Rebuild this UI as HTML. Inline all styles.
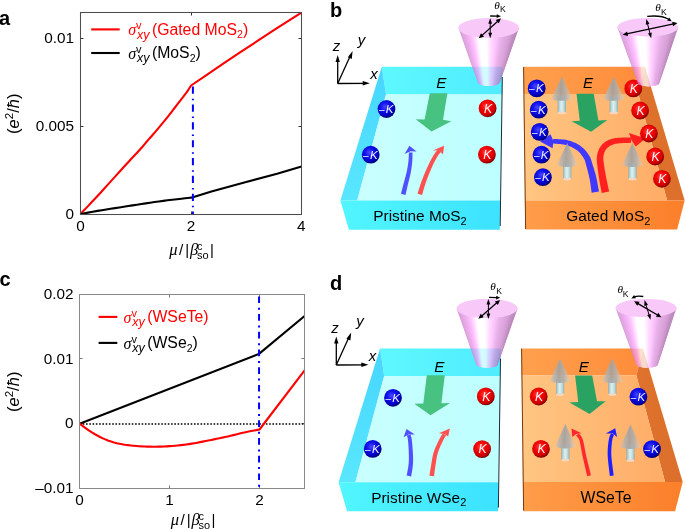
<!DOCTYPE html>
<html><head><meta charset="utf-8"><style>
html,body{margin:0;padding:0;background:#fff;}
body{width:685px;height:529px;overflow:hidden;position:relative;font-family:"Liberation Sans",sans-serif;}
svg{position:absolute;left:0;top:0;}
#wrap{position:absolute;left:0;top:0;width:685px;height:529px;transform:translateZ(0);}
</style></head><body>
<div id="wrap"><svg width="685" height="529" viewBox="0 0 685 529">
<defs>
<linearGradient id="cyBack" x1="0" x2="1" y1="0" y2="0"><stop offset="0" stop-color="#5df8ff"/><stop offset="1" stop-color="#50ecff"/></linearGradient>
<linearGradient id="cyFront" x1="0" x2="1" y1="0" y2="0"><stop offset="0" stop-color="#52f6ff"/><stop offset="1" stop-color="#3ce2ff"/></linearGradient>
<linearGradient id="cyFloor" x1="0" x2="1" y1="0" y2="0"><stop offset="0" stop-color="#c9ffff"/><stop offset="1" stop-color="#bdffff"/></linearGradient>
<linearGradient id="orBack" x1="0" x2="1" y1="0" y2="0"><stop offset="0" stop-color="#ffa04e"/><stop offset="1" stop-color="#ff8c3a"/></linearGradient>
<linearGradient id="orFloor" x1="0" x2="1" y1="0" y2="0"><stop offset="0" stop-color="#ffc682"/><stop offset="1" stop-color="#ffac66"/></linearGradient>
<linearGradient id="orFront" x1="0" x2="1" y1="0" y2="0"><stop offset="0" stop-color="#ff9d4a"/><stop offset="1" stop-color="#fb7f2a"/></linearGradient>
<linearGradient id="orWall" x1="0" x2="1" y1="0" y2="0"><stop offset="0" stop-color="#df732d"/><stop offset="1" stop-color="#db6f2b"/></linearGradient>
<linearGradient id="cyWall" x1="0" x2="0" y1="0" y2="1"><stop offset="0" stop-color="#46d5ff"/><stop offset="1" stop-color="#59e7ff"/></linearGradient>
<linearGradient id="coneBody" x1="0" x2="1" y1="0" y2="0">
 <stop offset="0" stop-color="#e2a2de"/><stop offset="0.25" stop-color="#f0bcec"/>
 <stop offset="0.42" stop-color="#ffffff"/><stop offset="0.52" stop-color="#fbeefb"/>
 <stop offset="0.7" stop-color="#e8b4e8"/><stop offset="1" stop-color="#c88cc8"/></linearGradient>
<radialGradient id="ballB" cx="0.42" cy="0.38" r="0.68"><stop offset="0" stop-color="#4a4aff"/><stop offset="0.35" stop-color="#1414f0"/><stop offset="0.72" stop-color="#0000c0"/><stop offset="1" stop-color="#000050"/></radialGradient>
<radialGradient id="ballR" cx="0.42" cy="0.38" r="0.68"><stop offset="0" stop-color="#ff4a4a"/><stop offset="0.35" stop-color="#f80808"/><stop offset="0.72" stop-color="#d00000"/><stop offset="1" stop-color="#580000"/></radialGradient>
<linearGradient id="spinCone" x1="0" x2="1" y1="0" y2="0"><stop offset="0" stop-color="#c8c4c0" stop-opacity="0.4"/><stop offset="0.2" stop-color="#b6b3b0" stop-opacity="0.82"/><stop offset="0.45" stop-color="#a2a1a0" stop-opacity="0.9"/><stop offset="0.7" stop-color="#b4b0ac" stop-opacity="0.85"/><stop offset="1" stop-color="#d8d0c8" stop-opacity="0.45"/></linearGradient>
<linearGradient id="spinStem" x1="0" x2="1" y1="0" y2="0"><stop offset="0" stop-color="#90acac"/><stop offset="0.2" stop-color="#b8d4d4"/><stop offset="0.45" stop-color="#dcf2f2"/><stop offset="0.75" stop-color="#c0d8d8"/><stop offset="1" stop-color="#92aeae"/></linearGradient>
<clipPath id="coneclip1"><path d="M458.4,27.9 L477.90000000000003,82.6 A10.9 3.5 0 0 0 499.7,82.6 L519.0,27.9 Z"/></clipPath><clipPath id="coneclip2"><path d="M617.3,27.2 L637.8000000000001,82.8 A10.8 3.6 0 0 0 659.4,82.8 L678.3,27.2 Z"/></clipPath><clipPath id="coneclip3"><path d="M456.6,308.4 L476.2,364.2 A10.8 3.6 0 0 0 497.8,364.2 L517.6,308.4 Z"/></clipPath><clipPath id="coneclip4"><path d="M615.5,308 L636.3000000000001,364.3 A10.8 3.6 0 0 0 657.9,364.3 L676.5,308 Z"/></clipPath></defs>
<text x="-1" y="25" font-family="Liberation Sans" font-size="20" font-weight="bold">a</text>
<text x="330" y="17" font-family="Liberation Sans" font-size="20" font-weight="bold">b</text>
<text x="-0.5" y="285.7" font-family="Liberation Sans" font-size="20" font-weight="bold">c</text>
<text x="330" y="289.9" font-family="Liberation Sans" font-size="20" font-weight="bold">d</text>
<line x1="191.5" y1="214.5" x2="191.5" y2="211.5" stroke="#333" stroke-width="1"/>
<line x1="191.5" y1="12.5" x2="191.5" y2="15.5" stroke="#333" stroke-width="1"/>
<line x1="80.5" y1="126.5" x2="83.5" y2="126.5" stroke="#333" stroke-width="1"/>
<line x1="301.5" y1="126.5" x2="298.5" y2="126.5" stroke="#333" stroke-width="1"/>
<line x1="80.5" y1="38.5" x2="83.5" y2="38.5" stroke="#333" stroke-width="1"/>
<line x1="301.5" y1="38.5" x2="298.5" y2="38.5" stroke="#333" stroke-width="1"/>
<polyline points="80.50,214.00 83.29,211.06 87.30,206.85 91.81,202.09 96.10,197.50 100.07,193.18 104.07,188.78 108.08,184.33 112.10,179.90 116.22,175.36 120.41,170.74 124.47,166.28 128.20,162.20 131.57,158.56 134.69,155.22 137.52,152.21 140.00,149.50 142.02,147.22 143.62,145.32 145.07,143.59 146.60,141.80 148.25,139.92 149.89,138.06 151.54,136.20 153.20,134.30 154.87,132.36 156.55,130.38 158.23,128.39 159.90,126.40 161.56,124.42 163.21,122.44 164.85,120.44 166.50,118.40 168.15,116.31 169.80,114.19 171.45,112.04 173.10,109.90 174.75,107.76 176.39,105.61 178.04,103.46 179.70,101.30 181.41,99.09 183.17,96.86 184.86,94.66 186.40,92.60 187.83,90.55 189.17,88.51 190.30,86.74 191.10,85.50 206.80,74.80 223.60,63.30 240.40,52.20 257.10,41.20 273.90,30.20 290.70,19.30 301.50,12.60" fill="none" stroke="#ff0000" stroke-width="2.1" stroke-linejoin="round"/>
<polyline points="80.50,214.00 83.54,213.44 87.91,212.62 92.82,211.73 97.50,210.90 101.84,210.18 106.21,209.48 110.61,208.79 115.00,208.10 119.40,207.42 123.80,206.74 128.20,206.07 132.60,205.40 136.98,204.72 141.36,204.03 145.73,203.35 150.10,202.70 154.47,202.07 158.85,201.46 163.22,200.86 167.60,200.30 172.22,199.74 177.01,199.20 181.46,198.71 185.10,198.30 187.75,198.00 189.69,197.78 191.09,197.62 192.10,197.50 211.40,191.60 244.30,182.50 277.10,173.80 301.50,166.60" fill="none" stroke="#000" stroke-width="2.1" stroke-linejoin="round"/>
<line x1="192.9" y1="86.6" x2="192.9" y2="214.3" stroke="#0000ff" stroke-width="2" stroke-dasharray="7.2 4.95 1.5 4.2"/>
<rect x="80.5" y="12.5" width="221.0" height="202.0" fill="none" stroke="#4d4d4d" stroke-width="1.05"/>
<text x="74" y="218.9" font-family="Liberation Sans" font-size="15.3" text-anchor="end">0</text>
<text x="74" y="130.9" font-family="Liberation Sans" font-size="15.3" text-anchor="end">0.005</text>
<text x="74" y="42.9" font-family="Liberation Sans" font-size="15.3" text-anchor="end">0.01</text>
<text x="80.5" y="231.4" font-family="Liberation Sans" font-size="15.3" text-anchor="middle">0</text>
<text x="190.9" y="231.4" font-family="Liberation Sans" font-size="15.3" text-anchor="middle">2</text>
<text x="301.2" y="231.4" font-family="Liberation Sans" font-size="15.3" text-anchor="middle">4</text>
<g transform="translate(18.5,113.7) rotate(-90)"><text x="0" y="0" font-family="Liberation Sans" font-size="16.5" text-anchor="middle">(<tspan font-style="italic">e</tspan><tspan font-size="11.5" dy="-6">2</tspan><tspan dy="6">/</tspan><tspan font-style="italic">ħ</tspan>)</text></g>
<text x="169.2" y="255.3" font-family="Liberation Serif" font-style="italic" font-size="16.5">μ</text>
<text x="179.0" y="255.3" font-family="Liberation Sans" font-size="15.3">/</text>
<text x="185.29999999999998" y="255.3" font-family="Liberation Sans" font-size="15">|</text>
<text x="190.1" y="255.3" font-family="Liberation Serif" font-style="italic" font-size="16.5">β</text>
<text x="196.89999999999998" y="249.70000000000002" font-family="Liberation Sans" font-size="11">c</text>
<text x="197.0" y="259.1" font-family="Liberation Sans" font-size="11">so</text>
<text x="209.89999999999998" y="255.3" font-family="Liberation Sans" font-size="15">|</text>
<line x1="91.2" y1="29.4" x2="119.7" y2="29.4" stroke="#ff0000" stroke-width="2.1"/>
<text x="128.3" y="35.1" font-family="Liberation Serif" font-style="italic" font-size="16" fill="#ff0000">σ</text>
<text x="136.1" y="29.0" font-family="Liberation Sans" font-size="11" fill="#ff0000">v</text>
<text x="136.9" y="38.5" font-family="Liberation Sans" font-style="italic" font-size="12.5" fill="#ff0000">xy</text>
<text x="151.9" y="34.8" font-family="Liberation Sans" font-size="15.8" fill="#ff0000">(Gated MoS<tspan font-size="10.5" dy="3.3">2</tspan><tspan dy="-3.3">)</tspan></text>
<line x1="91.2" y1="53.0" x2="119.7" y2="53.0" stroke="#000" stroke-width="2.1"/>
<text x="128.3" y="58.7" font-family="Liberation Serif" font-style="italic" font-size="16" fill="#000">σ</text>
<text x="136.1" y="52.6" font-family="Liberation Sans" font-size="11" fill="#000">v</text>
<text x="136.9" y="62.1" font-family="Liberation Sans" font-style="italic" font-size="12.5" fill="#000">xy</text>
<text x="151.9" y="58.4" font-family="Liberation Sans" font-size="15.8" fill="#000">(MoS<tspan font-size="10.5" dy="3.3">2</tspan><tspan dy="-3.3">)</tspan></text>
<line x1="169.5" y1="488.5" x2="169.5" y2="485.5" stroke="#777" stroke-width="1"/>
<line x1="169.5" y1="294.5" x2="169.5" y2="297.5" stroke="#777" stroke-width="1"/>
<line x1="259.5" y1="488.5" x2="259.5" y2="485.5" stroke="#777" stroke-width="1"/>
<line x1="259.5" y1="294.5" x2="259.5" y2="297.5" stroke="#777" stroke-width="1"/>
<line x1="79.5" y1="358.5" x2="82.5" y2="358.5" stroke="#777" stroke-width="1"/>
<line x1="304.5" y1="358.5" x2="301.5" y2="358.5" stroke="#777" stroke-width="1"/>
<line x1="79.5" y1="423.5" x2="82.5" y2="423.5" stroke="#777" stroke-width="1"/>
<line x1="304.5" y1="423.5" x2="301.5" y2="423.5" stroke="#777" stroke-width="1"/>
<line x1="79.5" y1="424" x2="304.5" y2="424" stroke="#000" stroke-width="1.6" stroke-dasharray="1.6 1.67"/>
<polyline points="79.6,423.7 258.7,354.1 304.6,316" fill="none" stroke="#000" stroke-width="2.1" stroke-linejoin="round"/>
<polyline points="79.60,423.70 81.25,424.91 83.56,426.63 86.28,428.61 89.15,430.62 91.90,432.40 94.56,433.98 97.31,435.53 100.10,437.01 102.91,438.38 105.70,439.60 108.47,440.67 111.25,441.61 114.04,442.43 116.82,443.16 119.60,443.80 122.38,444.34 125.16,444.77 127.95,445.12 130.73,445.42 133.50,445.70 136.26,445.96 139.02,446.18 141.78,446.35 144.54,446.49 147.30,446.60 150.07,446.67 152.85,446.71 155.64,446.71 158.42,446.67 161.20,446.60 163.98,446.49 166.76,446.34 169.54,446.15 172.32,445.94 175.10,445.70 177.88,445.44 180.66,445.15 183.45,444.84 186.23,444.49 189.00,444.10 191.76,443.66 194.52,443.18 197.28,442.66 200.04,442.13 202.80,441.60 205.57,441.06 208.35,440.51 211.14,439.95 213.92,439.38 216.70,438.80 219.48,438.22 222.26,437.63 225.05,437.04 227.83,436.43 230.60,435.80 233.35,435.14 236.06,434.44 238.79,433.74 241.56,433.05 244.40,432.40 247.58,431.74 251.07,431.06 254.48,430.43 257.43,429.89 259.50,429.50 304.60,370.40" fill="none" stroke="#ff0000" stroke-width="2.1" stroke-linejoin="round"/>
<line x1="259.05" y1="296.4" x2="259.05" y2="488" stroke="#0000ff" stroke-width="2" stroke-dasharray="6.7 4.7 2.0 4.3"/>
<rect x="79.5" y="294.5" width="225.0" height="194.0" fill="none" stroke="#888" stroke-width="1"/>
<text x="73.5" y="299.14" font-family="Liberation Sans" font-size="15.3" text-anchor="end">0.02</text>
<text x="73.5" y="363.66999999999996" font-family="Liberation Sans" font-size="15.3" text-anchor="end">0.01</text>
<text x="73.5" y="428.2" font-family="Liberation Sans" font-size="15.3" text-anchor="end">0</text>
<text x="73.5" y="492.73" font-family="Liberation Sans" font-size="15.3" text-anchor="end">–0.01</text>
<text x="79.6" y="505.2" font-family="Liberation Sans" font-size="15.3" text-anchor="middle">0</text>
<text x="169.6" y="505.2" font-family="Liberation Sans" font-size="15.3" text-anchor="middle">1</text>
<text x="259.6" y="505.2" font-family="Liberation Sans" font-size="15.3" text-anchor="middle">2</text>
<g transform="translate(18.5,391.8) rotate(-90)"><text x="0" y="0" font-family="Liberation Sans" font-size="16.5" text-anchor="middle">(<tspan font-style="italic">e</tspan><tspan font-size="11.5" dy="-6">2</tspan><tspan dy="6">/</tspan><tspan font-style="italic">ħ</tspan>)</text></g>
<text x="170.7" y="525.2" font-family="Liberation Serif" font-style="italic" font-size="16.5">μ</text>
<text x="180.5" y="525.2" font-family="Liberation Sans" font-size="15.3">/</text>
<text x="186.79999999999998" y="525.2" font-family="Liberation Sans" font-size="15">|</text>
<text x="191.6" y="525.2" font-family="Liberation Serif" font-style="italic" font-size="16.5">β</text>
<text x="198.39999999999998" y="519.6" font-family="Liberation Sans" font-size="11">c</text>
<text x="198.5" y="529.0" font-family="Liberation Sans" font-size="11">so</text>
<text x="211.39999999999998" y="525.2" font-family="Liberation Sans" font-size="15">|</text>
<line x1="98.6" y1="316.9" x2="117.3" y2="316.9" stroke="#ff0000" stroke-width="2.1"/>
<text x="123.6" y="322.59999999999997" font-family="Liberation Serif" font-style="italic" font-size="16" fill="#ff0000">σ</text>
<text x="131.39999999999998" y="316.5" font-family="Liberation Sans" font-size="11" fill="#ff0000">v</text>
<text x="132.2" y="326.0" font-family="Liberation Sans" font-style="italic" font-size="12.5" fill="#ff0000">xy</text>
<text x="147.2" y="322.29999999999995" font-family="Liberation Sans" font-size="15.8" fill="#ff0000">(WSeTe)</text>
<line x1="98.6" y1="342.9" x2="117.3" y2="342.9" stroke="#000" stroke-width="2.1"/>
<text x="123.6" y="348.59999999999997" font-family="Liberation Serif" font-style="italic" font-size="16" fill="#000">σ</text>
<text x="131.39999999999998" y="342.5" font-family="Liberation Sans" font-size="11" fill="#000">v</text>
<text x="132.2" y="352.0" font-family="Liberation Sans" font-style="italic" font-size="12.5" fill="#000">xy</text>
<text x="147.2" y="348.29999999999995" font-family="Liberation Sans" font-size="15.8" fill="#000">(WSe<tspan font-size="10.5" dy="3.3">2</tspan><tspan dy="-3.3">)</tspan></text>
<g transform="translate(0,0)">
<polygon points="381.8,66.8 502.5,66.8 502.2,94.5 386.0,94.5" fill="url(#cyBack)" />
<polygon points="381.8,66.8 386.0,94.5 357.2,200.6 340.4,200.6" fill="url(#cyWall)" />
<polygon points="386.0,94.5 502.2,94.5 500.0,200.6 357.2,200.6" fill="url(#cyFloor)" />
<polygon points="340.4,200.6 500.0,200.6 499.8,229.7 348.9,229.7" fill="url(#cyFront)" />
<line x1="502.3" y1="77" x2="500.2" y2="226" stroke="#1a2a3a" stroke-width="1"/>
</g>
<g transform="translate(0,0)">
<polygon points="523.3,66.8 645.0,66.8 638.4,94.0 523.6,94.0" fill="url(#orBack)" />
<polygon points="645.0,66.8 684.7,200.5 667.1,200.5 638.4,94.0" fill="url(#orWall)" />
<polygon points="523.6,94.0 638.4,94.0 667.1,200.5 524.8,200.5" fill="url(#orFloor)" />
<polygon points="524.8,200.5 684.7,200.5 677.1,229.6 525.5,229.6" fill="url(#orFront)" />
<line x1="523.6" y1="67" x2="525.6" y2="229" stroke="#7a3a10" stroke-width="1"/>
</g>
<g stroke="#000" stroke-width="1.3" fill="none">
<line x1="337.7" y1="83.5" x2="337.7" y2="59.5"/>
<line x1="337.7" y1="83.5" x2="366.7" y2="83.3"/>
<line x1="337.7" y1="83.5" x2="350.9" y2="54.5"/>
</g>
<polygon points="337.7,55.0 335.5,62.0 339.9,62.0" fill="#000"/>
<polygon points="369.8,83.3 362.7,81.1 362.7,85.5" fill="#000"/>
<polygon points="352.59999999999997,51.0 347.8,57.3 351.8,59.1" fill="#000"/>
<text x="332.7" y="51.0" font-family="Liberation Sans" font-size="15" font-style="italic">z</text>
<text x="357.7" y="44.5" font-family="Liberation Sans" font-size="15" font-style="italic">y</text>
<text x="370.2" y="79.3" font-family="Liberation Sans" font-size="15" font-style="italic">x</text>
<text x="436.3" y="87.8" font-family="Liberation Sans" font-size="15.2" font-style="italic">E</text>
<polygon points="429.8,93.3 447.4,93.3 443.0,119.8 451.3,121.2 431.5,131.6 415.7,119.3 424.6,119.4" fill="#48c280" />
<circle cx="386.5" cy="109" r="8.9" fill="url(#ballB)"/><text x="378.9" y="113.0" font-family="Liberation Sans" font-size="10" font-style="italic" fill="#f4f4ff">–</text><text x="385.7" y="112.9" font-family="Liberation Sans" font-size="11.5" font-style="italic" fill="#f4f4ff">K</text>
<circle cx="370.7" cy="154.7" r="8.9" fill="url(#ballB)"/><text x="363.09999999999997" y="158.7" font-family="Liberation Sans" font-size="10" font-style="italic" fill="#f4f4ff">–</text><text x="369.9" y="158.6" font-family="Liberation Sans" font-size="11.5" font-style="italic" fill="#f4f4ff">K</text>
<circle cx="487.6" cy="108.3" r="8.9" fill="url(#ballR)"/><text x="488.1" y="112.6" font-family="Liberation Sans" font-size="12.3" font-style="italic" fill="#fff4f4" text-anchor="middle">K</text>
<circle cx="486.9" cy="154.6" r="8.9" fill="url(#ballR)"/><text x="487.4" y="158.9" font-family="Liberation Sans" font-size="12.3" font-style="italic" fill="#fff4f4" text-anchor="middle">K</text>
<path d="M405.48,194.96 L405.67,194.14 L405.92,193.06 L406.22,191.77 L406.55,190.33 L406.90,188.81 L407.26,187.26 L407.61,185.75 L407.94,184.34 L408.27,183.00 L408.61,181.64 L408.96,180.26 L409.32,178.87 L409.67,177.47 L410.01,176.05 L410.33,174.64 L410.62,173.22 L410.88,171.81 L411.13,170.39 L411.36,168.97 L411.57,167.56 L411.76,166.15 L411.93,164.77 L412.08,163.42 L412.21,162.09 L412.31,160.73 L412.38,159.33 L412.43,157.92 L412.46,156.57 L412.47,155.31 L412.48,154.19 L412.49,153.26 L412.50,152.56 L408.90,152.44 L408.87,153.17 L408.84,154.12 L408.80,155.23 L408.76,156.47 L408.70,157.78 L408.62,159.12 L408.52,160.45 L408.39,161.71 L408.23,162.96 L408.05,164.26 L407.85,165.59 L407.63,166.94 L407.39,168.31 L407.14,169.67 L406.87,171.04 L406.58,172.38 L406.27,173.71 L405.93,175.05 L405.57,176.40 L405.19,177.77 L404.80,179.14 L404.41,180.51 L404.03,181.89 L403.66,183.26 L403.28,184.68 L402.89,186.19 L402.49,187.73 L402.10,189.24 L401.73,190.67 L401.40,191.95 L401.13,193.03 L400.92,193.84 Z" fill="#5050ff"/><polygon points="409.40,145.80 404.60,154.00 410.60,151.20 416.60,151.60" fill="#5050ff"/>
<path d="M422.05,195.07 L422.29,194.25 L422.59,193.18 L422.95,191.90 L423.35,190.49 L423.78,189.00 L424.23,187.48 L424.68,186.01 L425.13,184.63 L425.58,183.29 L426.05,181.94 L426.54,180.58 L427.04,179.21 L427.56,177.83 L428.09,176.46 L428.63,175.09 L429.17,173.72 L429.74,172.34 L430.32,170.93 L430.93,169.51 L431.54,168.09 L432.15,166.71 L432.75,165.37 L433.34,164.10 L433.91,162.91 L434.47,161.78 L435.03,160.70 L435.59,159.66 L436.13,158.68 L436.67,157.75 L437.18,156.88 L437.67,156.09 L438.11,155.38 L438.52,154.78 L438.92,154.26 L439.31,153.79 L439.68,153.38 L440.03,153.00 L440.35,152.67 L440.65,152.36 L440.90,152.09 L438.10,149.51 L437.90,149.73 L437.64,149.99 L437.29,150.34 L436.87,150.76 L436.41,151.26 L435.92,151.84 L435.40,152.49 L434.89,153.22 L434.37,153.99 L433.84,154.83 L433.28,155.73 L432.70,156.70 L432.11,157.72 L431.51,158.80 L430.90,159.93 L430.29,161.09 L429.67,162.32 L429.04,163.63 L428.39,164.99 L427.74,166.39 L427.09,167.82 L426.45,169.26 L425.83,170.68 L425.23,172.08 L424.64,173.46 L424.07,174.85 L423.50,176.25 L422.95,177.64 L422.40,179.03 L421.88,180.42 L421.37,181.80 L420.87,183.17 L420.38,184.61 L419.88,186.13 L419.39,187.67 L418.93,189.18 L418.50,190.60 L418.11,191.87 L417.79,192.93 L417.55,193.73 Z" fill="#ff5050"/><polygon points="444.10,145.80 432.80,150.60 438.80,150.20 443.00,154.20" fill="#ff5050"/>
<text x="583.0" y="87.9" font-family="Liberation Sans" font-size="15.2" font-style="italic">E</text>
<polygon points="576.5,93.8 593.7,93.8 598.4,120.6 607.4,119.9 591.1,131.8 571.6,121.2 579.8,120.8" fill="#2aa362" />
<path d="M598.95,191.62 L598.76,190.52 L598.51,189.06 L598.20,187.29 L597.86,185.32 L597.49,183.23 L597.09,181.12 L596.68,179.08 L596.25,177.17 L595.80,175.37 L595.32,173.55 L594.80,171.74 L594.28,169.96 L593.76,168.26 L593.25,166.64 L592.77,165.14 L592.35,163.80 L591.99,162.66 L591.70,161.66 L591.43,160.73 L591.15,159.83 L590.84,158.92 L590.46,157.99 L590.00,157.02 L589.44,156.01 L588.80,154.97 L588.10,153.91 L587.33,152.85 L586.52,151.80 L585.67,150.76 L584.79,149.76 L583.89,148.82 L582.98,147.93 L582.06,147.13 L581.14,146.38 L580.19,145.69 L579.23,145.05 L578.25,144.45 L577.25,143.90 L576.23,143.37 L575.17,142.87 L574.09,142.39 L572.98,141.93 L571.83,141.50 L570.66,141.10 L569.44,140.73 L568.17,140.39 L566.85,140.09 L565.46,139.82 L563.91,139.59 L562.19,139.41 L560.40,139.28 L558.61,139.17 L556.91,139.08 L555.37,139.02 L554.11,138.96 L553.17,138.91 L552.83,143.49 L553.79,143.58 L555.08,143.69 L556.60,143.81 L558.26,143.96 L559.98,144.12 L561.66,144.32 L563.21,144.54 L564.54,144.78 L565.71,145.06 L566.85,145.36 L567.93,145.69 L568.97,146.05 L569.97,146.44 L570.94,146.84 L571.89,147.28 L572.83,147.73 L573.73,148.21 L574.59,148.68 L575.39,149.18 L576.17,149.69 L576.91,150.22 L577.63,150.79 L578.33,151.41 L579.02,152.07 L579.72,152.80 L580.44,153.61 L581.15,154.48 L581.84,155.39 L582.51,156.32 L583.12,157.25 L583.68,158.15 L584.16,158.99 L584.53,159.73 L584.80,160.37 L585.02,160.99 L585.22,161.65 L585.43,162.41 L585.65,163.31 L585.92,164.37 L586.25,165.60 L586.64,166.97 L587.05,168.47 L587.49,170.07 L587.93,171.75 L588.38,173.47 L588.80,175.22 L589.20,176.95 L589.55,178.63 L589.87,180.39 L590.19,182.34 L590.50,184.39 L590.79,186.43 L591.05,188.38 L591.29,190.15 L591.49,191.65 L591.65,192.78 Z" fill="#4038ff"/><polygon points="540.00,141.50 550.50,134.20 553.50,141.20 552.60,148.30" fill="#4038ff"/>
<path d="M609.13,191.46 L608.89,190.34 L608.56,188.86 L608.18,187.10 L607.75,185.15 L607.31,183.10 L606.87,181.05 L606.47,179.08 L606.11,177.28 L605.79,175.57 L605.47,173.82 L605.17,172.07 L604.87,170.34 L604.60,168.67 L604.34,167.08 L604.12,165.61 L603.93,164.28 L603.76,163.09 L603.61,162.06 L603.49,161.18 L603.40,160.42 L603.33,159.75 L603.30,159.12 L603.30,158.48 L603.33,157.77 L603.39,157.00 L603.49,156.20 L603.62,155.40 L603.78,154.60 L603.97,153.83 L604.18,153.09 L604.41,152.40 L604.65,151.78 L604.92,151.20 L605.21,150.65 L605.53,150.12 L605.87,149.61 L606.24,149.12 L606.64,148.65 L607.07,148.19 L607.52,147.75 L607.99,147.33 L608.48,146.94 L609.01,146.56 L609.57,146.19 L610.15,145.85 L610.77,145.52 L611.40,145.21 L612.08,144.92 L612.76,144.64 L613.41,144.41 L614.04,144.20 L614.70,144.01 L615.42,143.84 L616.23,143.68 L617.18,143.54 L618.26,143.40 L619.60,143.27 L621.24,143.16 L623.08,143.07 L624.99,143.00 L626.86,142.93 L628.56,142.88 L630.00,142.84 L631.06,142.80 L630.94,137.60 L629.91,137.61 L628.49,137.60 L626.77,137.60 L624.88,137.60 L622.93,137.62 L621.02,137.65 L619.25,137.71 L617.74,137.80 L616.48,137.93 L615.35,138.07 L614.32,138.23 L613.37,138.43 L612.46,138.65 L611.60,138.90 L610.77,139.18 L609.92,139.48 L609.05,139.83 L608.19,140.21 L607.34,140.63 L606.52,141.08 L605.72,141.57 L604.94,142.09 L604.19,142.66 L603.48,143.25 L602.80,143.87 L602.16,144.52 L601.54,145.20 L600.95,145.92 L600.40,146.69 L599.88,147.49 L599.39,148.33 L598.95,149.22 L598.55,150.15 L598.19,151.12 L597.87,152.11 L597.59,153.12 L597.35,154.15 L597.15,155.18 L596.99,156.21 L596.87,157.23 L596.80,158.22 L596.77,159.17 L596.79,160.10 L596.84,161.01 L596.92,161.92 L597.02,162.88 L597.14,163.93 L597.27,165.12 L597.42,166.50 L597.61,168.02 L597.81,169.66 L598.04,171.37 L598.29,173.14 L598.54,174.94 L598.81,176.74 L599.09,178.52 L599.39,180.39 L599.74,182.42 L600.12,184.52 L600.50,186.60 L600.86,188.57 L601.20,190.35 L601.47,191.83 L601.67,192.94 Z" fill="#ff2020"/><polygon points="645.60,138.40 629.00,132.90 631.50,140.20 635.70,146.40" fill="#ff2020"/>
<rect x="557.5999999999999" y="96.1" width="8.4" height="16.8" fill="url(#spinStem)"/>
<ellipse cx="561.8" cy="112.89999999999999" rx="4.2" ry="1.4" fill="#f2d8c4"/>
<path d="M561.8,76.8 L572.3,98.6 A10.5 2.2 0 0 1 551.3,98.6 Z" fill="url(#spinCone)"/>
<rect x="609.5999999999999" y="96.1" width="8.4" height="16.8" fill="url(#spinStem)"/>
<ellipse cx="613.8" cy="112.89999999999999" rx="4.2" ry="1.4" fill="#f2d8c4"/>
<path d="M613.8,76.8 L624.3,98.6 A10.5 2.2 0 0 1 603.3,98.6 Z" fill="url(#spinCone)"/>
<rect x="563.0" y="162.3" width="8.4" height="16.8" fill="url(#spinStem)"/>
<ellipse cx="567.2" cy="179.10000000000002" rx="4.2" ry="1.4" fill="#f2d8c4"/>
<path d="M567.2,143 L577.7,164.8 A10.5 2.2 0 0 1 556.7,164.8 Z" fill="url(#spinCone)"/>
<rect x="628.3" y="162.3" width="8.4" height="16.8" fill="url(#spinStem)"/>
<ellipse cx="632.5" cy="179.10000000000002" rx="4.2" ry="1.4" fill="#f2d8c4"/>
<path d="M632.5,143 L643.0,164.8 A10.5 2.2 0 0 1 622.0,164.8 Z" fill="url(#spinCone)"/>
<circle cx="536.7" cy="88.4" r="8.9" fill="url(#ballB)"/><text x="529.1" y="92.4" font-family="Liberation Sans" font-size="10" font-style="italic" fill="#f4f4ff">–</text><text x="535.9000000000001" y="92.30000000000001" font-family="Liberation Sans" font-size="11.5" font-style="italic" fill="#f4f4ff">K</text>
<circle cx="538.7" cy="109.7" r="8.9" fill="url(#ballB)"/><text x="531.1" y="113.7" font-family="Liberation Sans" font-size="10" font-style="italic" fill="#f4f4ff">–</text><text x="537.9000000000001" y="113.60000000000001" font-family="Liberation Sans" font-size="11.5" font-style="italic" fill="#f4f4ff">K</text>
<circle cx="539.7" cy="131.9" r="8.9" fill="url(#ballB)"/><text x="532.1" y="135.9" font-family="Liberation Sans" font-size="10" font-style="italic" fill="#f4f4ff">–</text><text x="538.9000000000001" y="135.8" font-family="Liberation Sans" font-size="11.5" font-style="italic" fill="#f4f4ff">K</text>
<circle cx="541.5" cy="154.7" r="8.9" fill="url(#ballB)"/><text x="533.9" y="158.7" font-family="Liberation Sans" font-size="10" font-style="italic" fill="#f4f4ff">–</text><text x="540.7" y="158.6" font-family="Liberation Sans" font-size="11.5" font-style="italic" fill="#f4f4ff">K</text>
<circle cx="542.9" cy="177.2" r="8.9" fill="url(#ballB)"/><text x="535.3" y="181.2" font-family="Liberation Sans" font-size="10" font-style="italic" fill="#f4f4ff">–</text><text x="542.1" y="181.1" font-family="Liberation Sans" font-size="11.5" font-style="italic" fill="#f4f4ff">K</text>
<circle cx="633.3" cy="88.4" r="8.9" fill="url(#ballR)"/><text x="633.8" y="92.7" font-family="Liberation Sans" font-size="12.3" font-style="italic" fill="#fff4f4" text-anchor="middle">K</text>
<circle cx="640.1" cy="110.5" r="8.9" fill="url(#ballR)"/><text x="640.6" y="114.8" font-family="Liberation Sans" font-size="12.3" font-style="italic" fill="#fff4f4" text-anchor="middle">K</text>
<circle cx="648.9" cy="133.5" r="8.9" fill="url(#ballR)"/><text x="649.4" y="137.8" font-family="Liberation Sans" font-size="12.3" font-style="italic" fill="#fff4f4" text-anchor="middle">K</text>
<circle cx="655.2" cy="156.5" r="8.9" fill="url(#ballR)"/><text x="655.7" y="160.8" font-family="Liberation Sans" font-size="12.3" font-style="italic" fill="#fff4f4" text-anchor="middle">K</text>
<circle cx="661.9" cy="178.8" r="8.9" fill="url(#ballR)"/><text x="662.4" y="183.10000000000002" font-family="Liberation Sans" font-size="12.3" font-style="italic" fill="#fff4f4" text-anchor="middle">K</text>
<g opacity="0.75">
<g clip-path="url(#coneclip1)">
<polygon points="457.39,26.9 461.09,26.9 478.87,88.1 477.54,88.1" fill="#ca7eca"/>
<polygon points="459.07,26.9 462.78,26.9 479.47,88.1 478.14,88.1" fill="#d283d2"/>
<polygon points="460.76,26.9 464.46,26.9 480.08,88.1 478.75,88.1" fill="#da89da"/>
<polygon points="462.44,26.9 466.14,26.9 480.69,88.1 479.35,88.1" fill="#e28ee2"/>
<polygon points="464.12,26.9 467.83,26.9 481.29,88.1 479.96,88.1" fill="#e994e9"/>
<polygon points="465.81,26.9 469.51,26.9 481.90,88.1 480.56,88.1" fill="#f09cf0"/>
<polygon points="467.49,26.9 471.19,26.9 482.50,88.1 481.17,88.1" fill="#f7a3f7"/>
<polygon points="469.17,26.9 472.88,26.9 483.11,88.1 481.78,88.1" fill="#ffabff"/>
<polygon points="470.86,26.9 474.56,26.9 483.71,88.1 482.38,88.1" fill="#ffbeff"/>
<polygon points="472.54,26.9 476.24,26.9 484.32,88.1 482.99,88.1" fill="#ffd2ff"/>
<polygon points="474.22,26.9 477.93,26.9 484.92,88.1 483.59,88.1" fill="#ffe6ff"/>
<polygon points="475.91,26.9 479.61,26.9 485.53,88.1 484.20,88.1" fill="#fff8ff"/>
<polygon points="477.59,26.9 481.29,26.9 486.14,88.1 484.80,88.1" fill="#ffffff"/>
<polygon points="479.27,26.9 482.98,26.9 486.74,88.1 485.41,88.1" fill="#ffffff"/>
<polygon points="480.96,26.9 484.66,26.9 487.35,88.1 486.01,88.1" fill="#ffffff"/>
<polygon points="482.64,26.9 486.34,26.9 487.95,88.1 486.62,88.1" fill="#ffffff"/>
<polygon points="484.32,26.9 488.03,26.9 488.56,88.1 487.23,88.1" fill="#ffffff"/>
<polygon points="486.01,26.9 489.71,26.9 489.16,88.1 487.83,88.1" fill="#fff7ff"/>
<polygon points="487.69,26.9 491.39,26.9 489.77,88.1 488.44,88.1" fill="#ffe9ff"/>
<polygon points="489.37,26.9 493.08,26.9 490.37,88.1 489.04,88.1" fill="#ffdcff"/>
<polygon points="491.06,26.9 494.76,26.9 490.98,88.1 489.65,88.1" fill="#ffceff"/>
<polygon points="492.74,26.9 496.44,26.9 491.59,88.1 490.25,88.1" fill="#ffc5ff"/>
<polygon points="494.42,26.9 498.13,26.9 492.19,88.1 490.86,88.1" fill="#ffbbff"/>
<polygon points="496.11,26.9 499.81,26.9 492.80,88.1 491.46,88.1" fill="#fbb2fb"/>
<polygon points="497.79,26.9 501.49,26.9 493.40,88.1 492.07,88.1" fill="#f4aaf4"/>
<polygon points="499.47,26.9 503.18,26.9 494.01,88.1 492.68,88.1" fill="#eca2ec"/>
<polygon points="501.16,26.9 504.86,26.9 494.61,88.1 493.28,88.1" fill="#e49ae4"/>
<polygon points="502.84,26.9 506.54,26.9 495.22,88.1 493.89,88.1" fill="#de94de"/>
<polygon points="504.52,26.9 508.23,26.9 495.82,88.1 494.49,88.1" fill="#da8fda"/>
<polygon points="506.21,26.9 509.91,26.9 496.43,88.1 495.10,88.1" fill="#d68bd6"/>
<polygon points="507.89,26.9 511.59,26.9 497.04,88.1 495.70,88.1" fill="#d187d1"/>
<polygon points="509.57,26.9 513.28,26.9 497.64,88.1 496.31,88.1" fill="#cd82cd"/>
<polygon points="511.26,26.9 514.96,26.9 498.25,88.1 496.91,88.1" fill="#c67cc6"/>
<polygon points="512.94,26.9 516.64,26.9 498.85,88.1 497.52,88.1" fill="#bb74bb"/>
<polygon points="514.62,26.9 518.33,26.9 499.46,88.1 498.13,88.1" fill="#b06cb0"/>
<polygon points="516.31,26.9 520.01,26.9 500.06,88.1 498.73,88.1" fill="#a564a5"/>
</g>
<ellipse cx="488.7" cy="27.9" rx="30.3" ry="9.9" fill="#f6b6f6"/>
</g>
<g opacity="0.75">
<g clip-path="url(#coneclip2)">
<polygon points="616.28,26.2 620.01,26.2 638.76,88.39999999999999 637.44,88.39999999999999" fill="#ca7eca"/>
<polygon points="617.98,26.2 621.71,26.2 639.36,88.39999999999999 638.04,88.39999999999999" fill="#d283d2"/>
<polygon points="619.67,26.2 623.40,26.2 639.96,88.39999999999999 638.64,88.39999999999999" fill="#da89da"/>
<polygon points="621.37,26.2 625.09,26.2 640.56,88.39999999999999 639.24,88.39999999999999" fill="#e28ee2"/>
<polygon points="623.06,26.2 626.79,26.2 641.16,88.39999999999999 639.84,88.39999999999999" fill="#e994e9"/>
<polygon points="624.76,26.2 628.48,26.2 641.76,88.39999999999999 640.44,88.39999999999999" fill="#f09cf0"/>
<polygon points="626.45,26.2 630.18,26.2 642.36,88.39999999999999 641.04,88.39999999999999" fill="#f7a3f7"/>
<polygon points="628.14,26.2 631.87,26.2 642.96,88.39999999999999 641.64,88.39999999999999" fill="#ffabff"/>
<polygon points="629.84,26.2 633.57,26.2 643.56,88.39999999999999 642.24,88.39999999999999" fill="#ffbeff"/>
<polygon points="631.53,26.2 635.26,26.2 644.16,88.39999999999999 642.84,88.39999999999999" fill="#ffd2ff"/>
<polygon points="633.23,26.2 636.96,26.2 644.76,88.39999999999999 643.44,88.39999999999999" fill="#ffe6ff"/>
<polygon points="634.92,26.2 638.65,26.2 645.36,88.39999999999999 644.04,88.39999999999999" fill="#fff8ff"/>
<polygon points="636.62,26.2 640.34,26.2 645.96,88.39999999999999 644.64,88.39999999999999" fill="#ffffff"/>
<polygon points="638.31,26.2 642.04,26.2 646.56,88.39999999999999 645.24,88.39999999999999" fill="#ffffff"/>
<polygon points="640.01,26.2 643.73,26.2 647.16,88.39999999999999 645.84,88.39999999999999" fill="#ffffff"/>
<polygon points="641.70,26.2 645.43,26.2 647.76,88.39999999999999 646.44,88.39999999999999" fill="#ffffff"/>
<polygon points="643.39,26.2 647.12,26.2 648.36,88.39999999999999 647.04,88.39999999999999" fill="#ffffff"/>
<polygon points="645.09,26.2 648.82,26.2 648.96,88.39999999999999 647.64,88.39999999999999" fill="#fff7ff"/>
<polygon points="646.78,26.2 650.51,26.2 649.56,88.39999999999999 648.24,88.39999999999999" fill="#ffe9ff"/>
<polygon points="648.48,26.2 652.21,26.2 650.16,88.39999999999999 648.84,88.39999999999999" fill="#ffdcff"/>
<polygon points="650.17,26.2 653.90,26.2 650.76,88.39999999999999 649.44,88.39999999999999" fill="#ffceff"/>
<polygon points="651.87,26.2 655.59,26.2 651.36,88.39999999999999 650.04,88.39999999999999" fill="#ffc5ff"/>
<polygon points="653.56,26.2 657.29,26.2 651.96,88.39999999999999 650.64,88.39999999999999" fill="#ffbbff"/>
<polygon points="655.26,26.2 658.98,26.2 652.56,88.39999999999999 651.24,88.39999999999999" fill="#fbb2fb"/>
<polygon points="656.95,26.2 660.68,26.2 653.16,88.39999999999999 651.84,88.39999999999999" fill="#f4aaf4"/>
<polygon points="658.64,26.2 662.37,26.2 653.76,88.39999999999999 652.44,88.39999999999999" fill="#eca2ec"/>
<polygon points="660.34,26.2 664.07,26.2 654.36,88.39999999999999 653.04,88.39999999999999" fill="#e49ae4"/>
<polygon points="662.03,26.2 665.76,26.2 654.96,88.39999999999999 653.64,88.39999999999999" fill="#de94de"/>
<polygon points="663.73,26.2 667.46,26.2 655.56,88.39999999999999 654.24,88.39999999999999" fill="#da8fda"/>
<polygon points="665.42,26.2 669.15,26.2 656.16,88.39999999999999 654.84,88.39999999999999" fill="#d68bd6"/>
<polygon points="667.12,26.2 670.84,26.2 656.76,88.39999999999999 655.44,88.39999999999999" fill="#d187d1"/>
<polygon points="668.81,26.2 672.54,26.2 657.36,88.39999999999999 656.04,88.39999999999999" fill="#cd82cd"/>
<polygon points="670.51,26.2 674.23,26.2 657.96,88.39999999999999 656.64,88.39999999999999" fill="#c67cc6"/>
<polygon points="672.20,26.2 675.93,26.2 658.56,88.39999999999999 657.24,88.39999999999999" fill="#bb74bb"/>
<polygon points="673.89,26.2 677.62,26.2 659.16,88.39999999999999 657.84,88.39999999999999" fill="#b06cb0"/>
<polygon points="675.59,26.2 679.32,26.2 659.76,88.39999999999999 658.44,88.39999999999999" fill="#a564a5"/>
</g>
<ellipse cx="647.8" cy="27.2" rx="30.5" ry="9.2" fill="#f6b6f6"/>
</g>
<line x1="481.77184494409744" y1="35.62266221252482" x2="498.0281550559026" y2="20.977337787475175" stroke="#000" stroke-width="1.3"/><polygon points="478.8,38.3 484.05427540792004,36.66213860851206 480.9753369523236,33.244516922799995" fill="#000"/><polygon points="501,18.3 498.82466304767644,23.3554830772 495.74572459207997,19.937861391487942" fill="#000"/>
<line x1="490.2" y1="22.6" x2="490.2" y2="33.800000000000004" stroke="#000" stroke-width="1.0"/><polygon points="490.2,18.2 488.3,23.7 492.09999999999997,23.7" fill="#000"/><polygon points="490.2,38.2 488.3,32.7 492.09999999999997,32.7" fill="#000"/>
<line x1="490.2" y1="16.0" x2="497.20" y2="16.20" stroke="#000" stroke-width="1.3"/><polygon points="500.9,16.3 496.65,18.08 496.75,14.28" fill="#000"/>
<text x="494.29999999999995" y="8.7" font-family="Liberation Serif" font-style="italic" font-size="11.3">θ</text><text x="500.1" y="11.8" font-family="Liberation Sans" font-size="8.6">K</text>
<line x1="626.6118353476637" y1="33.864808876502465" x2="673.5881646523363" y2="23.835191123497534" stroke="#000" stroke-width="1.3"/><polygon points="622.7,34.7 628.0700290805908,35.90531642053469 627.1095592885686,31.406705770721473" fill="#000"/><polygon points="677.5,23.0 673.0904407114315,26.293294229278526 672.1299709194093,21.79468357946531" fill="#000"/>
<line x1="647.37750177062" y1="23.16602741837306" x2="650.12249822938" y2="34.033972581626934" stroke="#000" stroke-width="1.0"/><polygon points="646.3,18.9 645.8047290098866,24.697819128461333 649.4890254166633,23.76724941747132" fill="#000"/><polygon points="651.2,38.3 648.0109745833367,33.432750582528676 651.6952709901134,32.50218087153866" fill="#000"/>
<path d="M647.2,16.4 Q661,14.8 668.62,19.31" fill="none" stroke="#000" stroke-width="1.3"/><polygon points="671.8,21.2 667.22,20.69 669.16,17.42" fill="#000"/>
<text x="655.3" y="11.2" font-family="Liberation Serif" font-style="italic" font-size="11.3">θ</text><text x="661.1" y="15.3" font-family="Liberation Sans" font-size="8.6">K</text>
<text x="373.3" y="221.4" font-family="Liberation Sans" font-size="15.4">Pristine MoS<tspan font-size="11" dy="3.5">2</tspan></text>
<text x="566.3" y="221.4" font-family="Liberation Sans" font-size="15.4">Gated MoS<tspan font-size="11" dy="3.5">2</tspan></text>
<g transform="translate(-1.8,281.6)">
<polygon points="381.8,66.8 502.5,66.8 502.2,94.5 386.0,94.5" fill="url(#cyBack)" />
<polygon points="381.8,66.8 386.0,94.5 357.2,200.6 340.4,200.6" fill="url(#cyWall)" />
<polygon points="386.0,94.5 502.2,94.5 500.0,200.6 357.2,200.6" fill="url(#cyFloor)" />
<polygon points="340.4,200.6 500.0,200.6 499.8,229.7 348.9,229.7" fill="url(#cyFront)" />
<line x1="502.3" y1="77" x2="500.2" y2="226" stroke="#1a2a3a" stroke-width="1"/>
</g>
<g transform="translate(-2,281.6)">
<polygon points="523.3,66.8 645.0,66.8 638.4,94.0 523.6,94.0" fill="url(#orBack)" />
<polygon points="645.0,66.8 684.7,200.5 667.1,200.5 638.4,94.0" fill="url(#orWall)" />
<polygon points="523.6,94.0 638.4,94.0 667.1,200.5 524.8,200.5" fill="url(#orFloor)" />
<polygon points="524.8,200.5 684.7,200.5 677.1,229.6 525.5,229.6" fill="url(#orFront)" />
<line x1="523.6" y1="67" x2="525.6" y2="229" stroke="#7a3a10" stroke-width="1"/>
</g>
<g stroke="#000" stroke-width="1.3" fill="none">
<line x1="336.3" y1="365" x2="336.3" y2="341"/>
<line x1="336.3" y1="365" x2="365.3" y2="364.8"/>
<line x1="336.3" y1="365" x2="349.5" y2="336"/>
</g>
<polygon points="336.3,336.5 334.1,343.5 338.5,343.5" fill="#000"/>
<polygon points="368.40000000000003,364.8 361.3,362.6 361.3,367" fill="#000"/>
<polygon points="351.2,332.5 346.40000000000003,338.8 350.40000000000003,340.6" fill="#000"/>
<text x="331.3" y="332.5" font-family="Liberation Sans" font-size="15" font-style="italic">z</text>
<text x="356.3" y="326" font-family="Liberation Sans" font-size="15" font-style="italic">y</text>
<text x="368.8" y="360.8" font-family="Liberation Sans" font-size="15" font-style="italic">x</text>
<text x="434.2" y="372.1" font-family="Liberation Sans" font-size="15.2" font-style="italic">E</text>
<polygon points="426.8,375.3 444.8,375.3 441.4,403.2 450.1,402.9 430.5,415.2 414.3,403.7 423.3,403.4" fill="#48c280" />
<circle cx="393" cy="397.8" r="8.9" fill="url(#ballB)"/><text x="385.4" y="401.8" font-family="Liberation Sans" font-size="10" font-style="italic" fill="#f4f4ff">–</text><text x="392.2" y="401.7" font-family="Liberation Sans" font-size="11.5" font-style="italic" fill="#f4f4ff">K</text>
<circle cx="372.7" cy="448.9" r="8.9" fill="url(#ballB)"/><text x="365.09999999999997" y="452.9" font-family="Liberation Sans" font-size="10" font-style="italic" fill="#f4f4ff">–</text><text x="371.9" y="452.79999999999995" font-family="Liberation Sans" font-size="11.5" font-style="italic" fill="#f4f4ff">K</text>
<circle cx="485.8" cy="396.4" r="8.9" fill="url(#ballR)"/><text x="486.3" y="400.7" font-family="Liberation Sans" font-size="12.3" font-style="italic" fill="#fff4f4" text-anchor="middle">K</text>
<circle cx="482.1" cy="449.1" r="8.9" fill="url(#ballR)"/><text x="482.6" y="453.40000000000003" font-family="Liberation Sans" font-size="12.3" font-style="italic" fill="#fff4f4" text-anchor="middle">K</text>
<path d="M411.17,476.39 L411.31,475.48 L411.52,474.25 L411.78,472.78 L412.06,471.13 L412.34,469.38 L412.60,467.59 L412.81,465.83 L412.96,464.18 L413.05,462.63 L413.09,461.10 L413.10,459.59 L413.08,458.08 L413.04,456.58 L412.99,455.07 L412.91,453.55 L412.84,452.01 L412.74,450.38 L412.62,448.64 L412.48,446.85 L412.33,445.07 L412.17,443.35 L412.01,441.74 L411.84,440.29 L411.68,439.05 L411.51,438.00 L411.32,437.10 L411.11,436.34 L410.89,435.72 L410.69,435.22 L410.53,434.85 L410.42,434.61 L410.35,434.40 L406.85,435.60 L406.96,435.94 L407.11,436.30 L407.25,436.63 L407.38,436.98 L407.52,437.41 L407.66,437.95 L407.79,438.66 L407.92,439.55 L408.04,440.71 L408.17,442.11 L408.30,443.69 L408.42,445.38 L408.53,447.13 L408.63,448.89 L408.71,450.59 L408.76,452.19 L408.81,453.71 L408.84,455.20 L408.87,456.67 L408.88,458.12 L408.86,459.55 L408.82,460.98 L408.75,462.40 L408.64,463.82 L408.47,465.32 L408.23,466.96 L407.95,468.66 L407.64,470.36 L407.33,471.97 L407.05,473.43 L406.81,474.67 L406.63,475.61 Z" fill="#5050ff"/><polygon points="406.50,429.10 403.60,437.20 408.60,434.40 414.80,434.60" fill="#5050ff"/>
<path d="M433.98,476.33 L434.10,475.40 L434.27,474.16 L434.46,472.69 L434.68,471.07 L434.91,469.35 L435.16,467.61 L435.41,465.93 L435.66,464.36 L435.90,462.86 L436.12,461.38 L436.34,459.92 L436.56,458.47 L436.82,457.04 L437.11,455.62 L437.46,454.19 L437.88,452.74 L438.40,451.21 L439.03,449.55 L439.74,447.82 L440.49,446.09 L441.26,444.40 L441.99,442.81 L442.67,441.38 L443.25,440.17 L443.73,439.20 L444.17,438.40 L444.57,437.74 L444.93,437.19 L445.26,436.72 L445.56,436.31 L445.84,435.92 L446.07,435.57 L442.93,433.43 L442.73,433.72 L442.49,434.04 L442.16,434.47 L441.77,435.01 L441.33,435.67 L440.84,436.45 L440.31,437.37 L439.75,438.43 L439.14,439.66 L438.42,441.10 L437.64,442.71 L436.83,444.43 L436.02,446.21 L435.24,448.00 L434.53,449.77 L433.92,451.46 L433.42,453.07 L433.01,454.65 L432.66,456.20 L432.36,457.73 L432.09,459.22 L431.85,460.70 L431.60,462.16 L431.34,463.64 L431.06,465.22 L430.77,466.94 L430.49,468.69 L430.22,470.42 L429.97,472.06 L429.75,473.52 L429.57,474.75 L429.42,475.67 Z" fill="#ff5050"/><polygon points="449.80,428.60 438.90,433.20 444.40,434.00 448.20,436.40" fill="#ff5050"/>
<text x="578.8" y="372.0" font-family="Liberation Sans" font-size="15.2" font-style="italic">E</text>
<polygon points="575.1,375.5 592.2,375.5 597.0,401.3 605.7,401.3 589.6,414.0 569.4,402.4 578.2,402.0" fill="#2aa362" />
<path d="M591.00,475.35 L590.60,473.71 L590.05,471.50 L589.40,468.86 L588.69,465.95 L587.95,462.93 L587.22,459.94 L586.55,457.15 L585.98,454.71 L585.51,452.52 L585.08,450.37 L584.69,448.29 L584.32,446.28 L583.95,444.38 L583.58,442.60 L583.19,440.95 L582.75,439.46 L582.24,438.12 L581.66,436.98 L581.04,436.02 L580.44,435.23 L579.87,434.59 L579.40,434.09 L579.07,433.75 L578.84,433.45 L576.16,435.55 L576.49,435.97 L576.92,436.43 L577.34,436.89 L577.78,437.39 L578.21,437.97 L578.65,438.66 L579.06,439.51 L579.45,440.54 L579.81,441.83 L580.15,443.34 L580.49,445.05 L580.82,446.92 L581.17,448.92 L581.54,451.04 L581.95,453.24 L582.42,455.49 L582.97,457.97 L583.60,460.79 L584.30,463.80 L585.00,466.83 L585.68,469.75 L586.30,472.40 L586.82,474.62 L587.20,476.25 Z" fill="#ff2830"/><polygon points="571.40,428.60 581.60,433.20 576.30,434.00 572.30,437.00" fill="#ff2830"/>
<path d="M613.74,475.56 L613.52,473.92 L613.22,471.70 L612.86,469.06 L612.47,466.16 L612.09,463.15 L611.75,460.18 L611.48,457.42 L611.33,455.03 L611.27,452.88 L611.29,450.77 L611.37,448.73 L611.50,446.77 L611.66,444.93 L611.84,443.21 L612.03,441.65 L612.22,440.28 L612.41,439.14 L612.65,438.21 L612.91,437.42 L613.18,436.75 L613.45,436.16 L613.72,435.64 L613.97,435.12 L614.17,434.66 L611.03,433.34 L610.89,433.68 L610.68,434.09 L610.38,434.66 L610.04,435.37 L609.69,436.22 L609.34,437.23 L609.03,438.41 L608.78,439.72 L608.57,441.18 L608.35,442.79 L608.14,444.57 L607.95,446.49 L607.80,448.53 L607.69,450.66 L607.65,452.89 L607.67,455.17 L607.81,457.70 L608.05,460.55 L608.36,463.58 L608.71,466.63 L609.07,469.55 L609.40,472.20 L609.68,474.41 L609.86,476.04 Z" fill="#2020ff"/><polygon points="615.20,428.20 617.10,437.00 612.80,433.60 605.70,433.50" fill="#2020ff"/>
<rect x="556.0" y="378.29999999999995" width="8.2" height="16.3" fill="url(#spinStem)"/>
<ellipse cx="560.1" cy="394.59999999999997" rx="4.1" ry="1.4" fill="#f2d8c4"/>
<path d="M560.1,358.4 L570.5,380.79999999999995 A10.4 2.2 0 0 1 549.7,380.79999999999995 Z" fill="url(#spinCone)"/>
<rect x="608.1999999999999" y="378.29999999999995" width="8.2" height="16.3" fill="url(#spinStem)"/>
<ellipse cx="612.3" cy="394.59999999999997" rx="4.1" ry="1.4" fill="#f2d8c4"/>
<path d="M612.3,358.4 L622.6999999999999,380.79999999999995 A10.4 2.2 0 0 1 601.9,380.79999999999995 Z" fill="url(#spinCone)"/>
<rect x="561.3" y="443.79999999999995" width="8.2" height="16.3" fill="url(#spinStem)"/>
<ellipse cx="565.4" cy="460.09999999999997" rx="4.1" ry="1.4" fill="#f2d8c4"/>
<path d="M565.4,423.9 L575.8,446.29999999999995 A10.4 2.2 0 0 1 555.0,446.29999999999995 Z" fill="url(#spinCone)"/>
<rect x="626.4" y="444.29999999999995" width="8.2" height="16.3" fill="url(#spinStem)"/>
<ellipse cx="630.5" cy="460.59999999999997" rx="4.1" ry="1.4" fill="#f2d8c4"/>
<path d="M630.5,424.4 L640.9,446.79999999999995 A10.4 2.2 0 0 1 620.1,446.79999999999995 Z" fill="url(#spinCone)"/>
<circle cx="538.7" cy="396.5" r="8.9" fill="url(#ballR)"/><text x="539.2" y="400.8" font-family="Liberation Sans" font-size="12.3" font-style="italic" fill="#fff4f4" text-anchor="middle">K</text>
<circle cx="541" cy="448.9" r="8.9" fill="url(#ballR)"/><text x="541.5" y="453.2" font-family="Liberation Sans" font-size="12.3" font-style="italic" fill="#fff4f4" text-anchor="middle">K</text>
<circle cx="638.4" cy="396.7" r="8.9" fill="url(#ballB)"/><text x="630.8" y="400.7" font-family="Liberation Sans" font-size="10" font-style="italic" fill="#f4f4ff">–</text><text x="637.6" y="400.59999999999997" font-family="Liberation Sans" font-size="11.5" font-style="italic" fill="#f4f4ff">K</text>
<circle cx="652" cy="449.1" r="8.9" fill="url(#ballB)"/><text x="644.4" y="453.1" font-family="Liberation Sans" font-size="10" font-style="italic" fill="#f4f4ff">–</text><text x="651.2" y="453.0" font-family="Liberation Sans" font-size="11.5" font-style="italic" fill="#f4f4ff">K</text>
<g opacity="0.75">
<g clip-path="url(#coneclip3)">
<polygon points="455.58,307.4 459.31,307.4 477.16,369.8 475.84,369.8" fill="#ca7eca"/>
<polygon points="457.28,307.4 461.01,307.4 477.76,369.8 476.44,369.8" fill="#d283d2"/>
<polygon points="458.97,307.4 462.70,307.4 478.36,369.8 477.04,369.8" fill="#da89da"/>
<polygon points="460.67,307.4 464.39,307.4 478.96,369.8 477.64,369.8" fill="#e28ee2"/>
<polygon points="462.36,307.4 466.09,307.4 479.56,369.8 478.24,369.8" fill="#e994e9"/>
<polygon points="464.06,307.4 467.78,307.4 480.16,369.8 478.84,369.8" fill="#f09cf0"/>
<polygon points="465.75,307.4 469.48,307.4 480.76,369.8 479.44,369.8" fill="#f7a3f7"/>
<polygon points="467.44,307.4 471.17,307.4 481.36,369.8 480.04,369.8" fill="#ffabff"/>
<polygon points="469.14,307.4 472.87,307.4 481.96,369.8 480.64,369.8" fill="#ffbeff"/>
<polygon points="470.83,307.4 474.56,307.4 482.56,369.8 481.24,369.8" fill="#ffd2ff"/>
<polygon points="472.53,307.4 476.26,307.4 483.16,369.8 481.84,369.8" fill="#ffe6ff"/>
<polygon points="474.22,307.4 477.95,307.4 483.76,369.8 482.44,369.8" fill="#fff8ff"/>
<polygon points="475.92,307.4 479.64,307.4 484.36,369.8 483.04,369.8" fill="#ffffff"/>
<polygon points="477.61,307.4 481.34,307.4 484.96,369.8 483.64,369.8" fill="#ffffff"/>
<polygon points="479.31,307.4 483.03,307.4 485.56,369.8 484.24,369.8" fill="#ffffff"/>
<polygon points="481.00,307.4 484.73,307.4 486.16,369.8 484.84,369.8" fill="#ffffff"/>
<polygon points="482.69,307.4 486.42,307.4 486.76,369.8 485.44,369.8" fill="#ffffff"/>
<polygon points="484.39,307.4 488.12,307.4 487.36,369.8 486.04,369.8" fill="#fff7ff"/>
<polygon points="486.08,307.4 489.81,307.4 487.96,369.8 486.64,369.8" fill="#ffe9ff"/>
<polygon points="487.78,307.4 491.51,307.4 488.56,369.8 487.24,369.8" fill="#ffdcff"/>
<polygon points="489.47,307.4 493.20,307.4 489.16,369.8 487.84,369.8" fill="#ffceff"/>
<polygon points="491.17,307.4 494.89,307.4 489.76,369.8 488.44,369.8" fill="#ffc5ff"/>
<polygon points="492.86,307.4 496.59,307.4 490.36,369.8 489.04,369.8" fill="#ffbbff"/>
<polygon points="494.56,307.4 498.28,307.4 490.96,369.8 489.64,369.8" fill="#fbb2fb"/>
<polygon points="496.25,307.4 499.98,307.4 491.56,369.8 490.24,369.8" fill="#f4aaf4"/>
<polygon points="497.94,307.4 501.67,307.4 492.16,369.8 490.84,369.8" fill="#eca2ec"/>
<polygon points="499.64,307.4 503.37,307.4 492.76,369.8 491.44,369.8" fill="#e49ae4"/>
<polygon points="501.33,307.4 505.06,307.4 493.36,369.8 492.04,369.8" fill="#de94de"/>
<polygon points="503.03,307.4 506.76,307.4 493.96,369.8 492.64,369.8" fill="#da8fda"/>
<polygon points="504.72,307.4 508.45,307.4 494.56,369.8 493.24,369.8" fill="#d68bd6"/>
<polygon points="506.42,307.4 510.14,307.4 495.16,369.8 493.84,369.8" fill="#d187d1"/>
<polygon points="508.11,307.4 511.84,307.4 495.76,369.8 494.44,369.8" fill="#cd82cd"/>
<polygon points="509.81,307.4 513.53,307.4 496.36,369.8 495.04,369.8" fill="#c67cc6"/>
<polygon points="511.50,307.4 515.23,307.4 496.96,369.8 495.64,369.8" fill="#bb74bb"/>
<polygon points="513.19,307.4 516.92,307.4 497.56,369.8 496.24,369.8" fill="#b06cb0"/>
<polygon points="514.89,307.4 518.62,307.4 498.16,369.8 496.84,369.8" fill="#a564a5"/>
</g>
<ellipse cx="487.1" cy="308.4" rx="30.5" ry="9.6" fill="#f6b6f6"/>
</g>
<g opacity="0.75">
<g clip-path="url(#coneclip4)">
<polygon points="614.48,307 618.21,307 637.26,369.90000000000003 635.94,369.90000000000003" fill="#ca7eca"/>
<polygon points="616.18,307 619.91,307 637.86,369.90000000000003 636.54,369.90000000000003" fill="#d283d2"/>
<polygon points="617.87,307 621.60,307 638.46,369.90000000000003 637.14,369.90000000000003" fill="#da89da"/>
<polygon points="619.57,307 623.29,307 639.06,369.90000000000003 637.74,369.90000000000003" fill="#e28ee2"/>
<polygon points="621.26,307 624.99,307 639.66,369.90000000000003 638.34,369.90000000000003" fill="#e994e9"/>
<polygon points="622.96,307 626.68,307 640.26,369.90000000000003 638.94,369.90000000000003" fill="#f09cf0"/>
<polygon points="624.65,307 628.38,307 640.86,369.90000000000003 639.54,369.90000000000003" fill="#f7a3f7"/>
<polygon points="626.34,307 630.07,307 641.46,369.90000000000003 640.14,369.90000000000003" fill="#ffabff"/>
<polygon points="628.04,307 631.77,307 642.06,369.90000000000003 640.74,369.90000000000003" fill="#ffbeff"/>
<polygon points="629.73,307 633.46,307 642.66,369.90000000000003 641.34,369.90000000000003" fill="#ffd2ff"/>
<polygon points="631.43,307 635.16,307 643.26,369.90000000000003 641.94,369.90000000000003" fill="#ffe6ff"/>
<polygon points="633.12,307 636.85,307 643.86,369.90000000000003 642.54,369.90000000000003" fill="#fff8ff"/>
<polygon points="634.82,307 638.54,307 644.46,369.90000000000003 643.14,369.90000000000003" fill="#ffffff"/>
<polygon points="636.51,307 640.24,307 645.06,369.90000000000003 643.74,369.90000000000003" fill="#ffffff"/>
<polygon points="638.21,307 641.93,307 645.66,369.90000000000003 644.34,369.90000000000003" fill="#ffffff"/>
<polygon points="639.90,307 643.63,307 646.26,369.90000000000003 644.94,369.90000000000003" fill="#ffffff"/>
<polygon points="641.59,307 645.32,307 646.86,369.90000000000003 645.54,369.90000000000003" fill="#ffffff"/>
<polygon points="643.29,307 647.02,307 647.46,369.90000000000003 646.14,369.90000000000003" fill="#fff7ff"/>
<polygon points="644.98,307 648.71,307 648.06,369.90000000000003 646.74,369.90000000000003" fill="#ffe9ff"/>
<polygon points="646.68,307 650.41,307 648.66,369.90000000000003 647.34,369.90000000000003" fill="#ffdcff"/>
<polygon points="648.37,307 652.10,307 649.26,369.90000000000003 647.94,369.90000000000003" fill="#ffceff"/>
<polygon points="650.07,307 653.79,307 649.86,369.90000000000003 648.54,369.90000000000003" fill="#ffc5ff"/>
<polygon points="651.76,307 655.49,307 650.46,369.90000000000003 649.14,369.90000000000003" fill="#ffbbff"/>
<polygon points="653.46,307 657.18,307 651.06,369.90000000000003 649.74,369.90000000000003" fill="#fbb2fb"/>
<polygon points="655.15,307 658.88,307 651.66,369.90000000000003 650.34,369.90000000000003" fill="#f4aaf4"/>
<polygon points="656.84,307 660.57,307 652.26,369.90000000000003 650.94,369.90000000000003" fill="#eca2ec"/>
<polygon points="658.54,307 662.27,307 652.86,369.90000000000003 651.54,369.90000000000003" fill="#e49ae4"/>
<polygon points="660.23,307 663.96,307 653.46,369.90000000000003 652.14,369.90000000000003" fill="#de94de"/>
<polygon points="661.93,307 665.66,307 654.06,369.90000000000003 652.74,369.90000000000003" fill="#da8fda"/>
<polygon points="663.62,307 667.35,307 654.66,369.90000000000003 653.34,369.90000000000003" fill="#d68bd6"/>
<polygon points="665.32,307 669.04,307 655.26,369.90000000000003 653.94,369.90000000000003" fill="#d187d1"/>
<polygon points="667.01,307 670.74,307 655.86,369.90000000000003 654.54,369.90000000000003" fill="#cd82cd"/>
<polygon points="668.71,307 672.43,307 656.46,369.90000000000003 655.14,369.90000000000003" fill="#c67cc6"/>
<polygon points="670.40,307 674.13,307 657.06,369.90000000000003 655.74,369.90000000000003" fill="#bb74bb"/>
<polygon points="672.09,307 675.82,307 657.66,369.90000000000003 656.34,369.90000000000003" fill="#b06cb0"/>
<polygon points="673.79,307 677.52,307 658.26,369.90000000000003 656.94,369.90000000000003" fill="#a564a5"/>
</g>
<ellipse cx="646" cy="308" rx="30.5" ry="9.1" fill="#f6b6f6"/>
</g>
<line x1="481.4163263835452" y1="316.1728770207832" x2="497.0836736164548" y2="302.52712297921676" stroke="#000" stroke-width="1.3"/><polygon points="478.4,318.8 483.68100369248117,317.25048394651753 480.65981226638183,313.7817086054405" fill="#000"/><polygon points="500.1,299.9 497.84018773361817,304.9182913945595 494.81899630751883,301.44951605348245" fill="#000"/>
<line x1="488.4" y1="303.4" x2="488.4" y2="314.6" stroke="#000" stroke-width="1.0"/><polygon points="488.4,299.0 486.5,304.5 490.29999999999995,304.5" fill="#000"/><polygon points="488.4,319.0 486.5,313.5 490.29999999999995,313.5" fill="#000"/>
<line x1="489" y1="297.3" x2="496.60" y2="297.64" stroke="#000" stroke-width="1.3"/><polygon points="500.3,297.8 496.02,299.51 496.19,295.72" fill="#000"/>
<text x="490.2" y="290.3" font-family="Liberation Serif" font-style="italic" font-size="11.3">θ</text><text x="496.20000000000005" y="294.3" font-family="Liberation Sans" font-size="8.6">K</text>
<line x1="637.5509820388736" y1="303.3225535758966" x2="657.9490179611264" y2="315.2774464241034" stroke="#000" stroke-width="1.3"/><polygon points="634.1,301.3 637.2507592424514,305.81250664222307 639.5766958547325,301.8438772975185" fill="#000"/><polygon points="661.4,317.3 655.9233041452675,316.75612270248155 658.2492407575486,312.78749335777695" fill="#000"/>
<line x1="645.8014719731776" y1="304.3031144051802" x2="649.2985280268224" y2="315.5968855948198" stroke="#000" stroke-width="1.0"/><polygon points="644.5,300.1 644.3118587460533,305.9158922676201 647.9418211868908,304.79189374533036" fill="#000"/><polygon points="650.6,319.8 647.1581788131092,315.1081062546697 650.7881412539467,313.9841077323799" fill="#000"/>
<path d="M643.3,296.5 Q637,295.6 634.57,296.88" fill="none" stroke="#000" stroke-width="1.3"/><polygon points="631.3,298.6 634.13,294.96 635.90,298.33" fill="#000"/>
<text x="617.4" y="292.9" font-family="Liberation Serif" font-style="italic" font-size="11.3">θ</text><text x="622.8000000000001" y="296.9" font-family="Liberation Sans" font-size="8.6">K</text>
<text x="371.2" y="502.7" font-family="Liberation Sans" font-size="15.4">Pristine WSe<tspan font-size="11" dy="3.5">2</tspan></text>
<text x="580.6" y="502.5" font-family="Liberation Sans" font-size="15.8">WSeTe</text>
</svg></div>
</body></html>
